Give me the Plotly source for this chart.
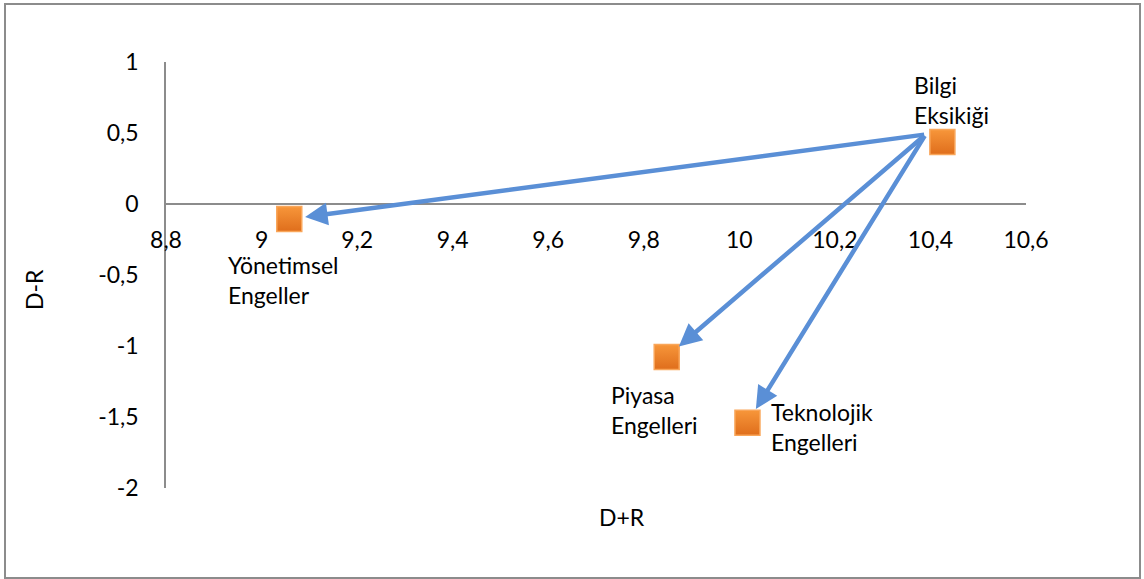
import plotly.graph_objects as go

# ---- data ----
names = ["Bilgi<br>Eksikiği", "Yönetimsel<br>Engeller", "Piyasa<br>Engelleri", "Teknolojik<br>Engelleri"]
d_plus_r = [10.425, 9.058, 9.848, 10.017]
d_minus_r = [0.437, -0.106, -1.077, -1.54]
# arrows: common tail point -> target point index
arrow_tail = (10.39, 0.49)
arrow_targets = [1, 2, 3]

x_ticks = [8.8, 9.0, 9.2, 9.4, 9.6, 9.8, 10.0, 10.2, 10.4, 10.6]
x_ticktext = ["8,8", "9", "9,2", "9,4", "9,6", "9,8", "10", "10,2", "10,4", "10,6"]
y_ticks = [-2, -1.5, -1, -0.5, 0, 0.5, 1]
y_ticktext = ["-2", "-1,5", "-1", "-0,5", "0", "0,5", "1"]

# ---- style ----
W, H = 1144, 579
ML, MR, MT, MB = 166, 118, 62, 91
FONT = "Lato, 'Open Sans', sans-serif"
FS = 23
AXC = "#8c8c8c"
label_pos = [  # xanchor, yanchor, xshift, yshift
    ("left", "bottom", -30, 11),
    ("left", "top", -63, -30),
    ("left", "top", -58, -22),
    ("left", "top", 22, 27),
]

fig = go.Figure()
fig.add_trace(go.Scatter(
    x=d_plus_r, y=d_minus_r, mode="markers",
    marker=dict(symbol="square", size=25, color="#F7963A",
                gradient=dict(type="vertical", color="#DF6E1C"),
                line=dict(color="#F9A65A", width=1.5)),
    hoverinfo="skip", showlegend=False,
))

for i in arrow_targets:
    fig.add_annotation(
        x=d_plus_r[i], y=d_minus_r[i], ax=arrow_tail[0], ay=arrow_tail[1],
        xref="x", yref="y", axref="x", ayref="y", text="",
        showarrow=True, arrowhead=2, arrowsize=1.0, arrowwidth=4.5,
        arrowcolor="#5A8FD6", standoff=16,
    )

for n, x, y, (xa, ya, xs, ys) in zip(names, d_plus_r, d_minus_r, label_pos):
    fig.add_annotation(x=x, y=y, text=n, showarrow=False, xanchor=xa, yanchor=ya,
                       xshift=xs, yshift=ys, align="left",
                       font=dict(family=FONT, size=FS, color="#000000"))

pw = W - ML - MR
ph = H - MT - MB
def px2paper_x(p):
    return (p - ML) / pw
def px2paper_y(p):
    return (H - MB - p) / ph

fig.add_shape(type="rect", xref="paper", yref="paper",
              x0=px2paper_x(5), x1=px2paper_x(1140), y0=px2paper_y(578), y1=px2paper_y(4),
              line=dict(color="#8c8c8c", width=2), fillcolor="rgba(0,0,0,0)", layer="below")

fig.add_annotation(text="D+R", xref="paper", yref="paper", x=px2paper_x(622), y=px2paper_y(517),
                   xanchor="center", yanchor="middle",
                   showarrow=False, font=dict(family=FONT, size=FS, color="#000"))
fig.add_annotation(text="D-R", xref="paper", yref="paper", x=px2paper_x(34), y=px2paper_y(290),
                   xanchor="center", yanchor="middle",
                   showarrow=False, textangle=-90, font=dict(family=FONT, size=FS, color="#000"))

yr = [-2, 1]
fig.update_layout(
    width=W, height=H, margin=dict(l=ML, r=MR, t=MT, b=MB),
    paper_bgcolor="white", plot_bgcolor="white",
    xaxis=dict(range=[8.8, 10.6], tickvals=x_ticks, ticktext=x_ticktext,
               showgrid=False, zeroline=False, showline=True, linecolor=AXC, linewidth=1.5,
               anchor="free", position=(0 - yr[0]) / (yr[1] - yr[0]),
               ticks="", ticklabelstandoff=16,
               tickfont=dict(family=FONT, size=FS, color="#000")),
    yaxis=dict(range=yr, tickvals=y_ticks, ticktext=y_ticktext,
               showgrid=False, zeroline=False, showline=True, linecolor=AXC, linewidth=1.5,
               ticks="", ticklabelstandoff=21,
               tickfont=dict(family=FONT, size=FS, color="#000")),
)

fig.write_html("out.html", config={"displayModeBar": False},
               post_script="document.body.style.margin='0';document.body.style.overflow='hidden';")
